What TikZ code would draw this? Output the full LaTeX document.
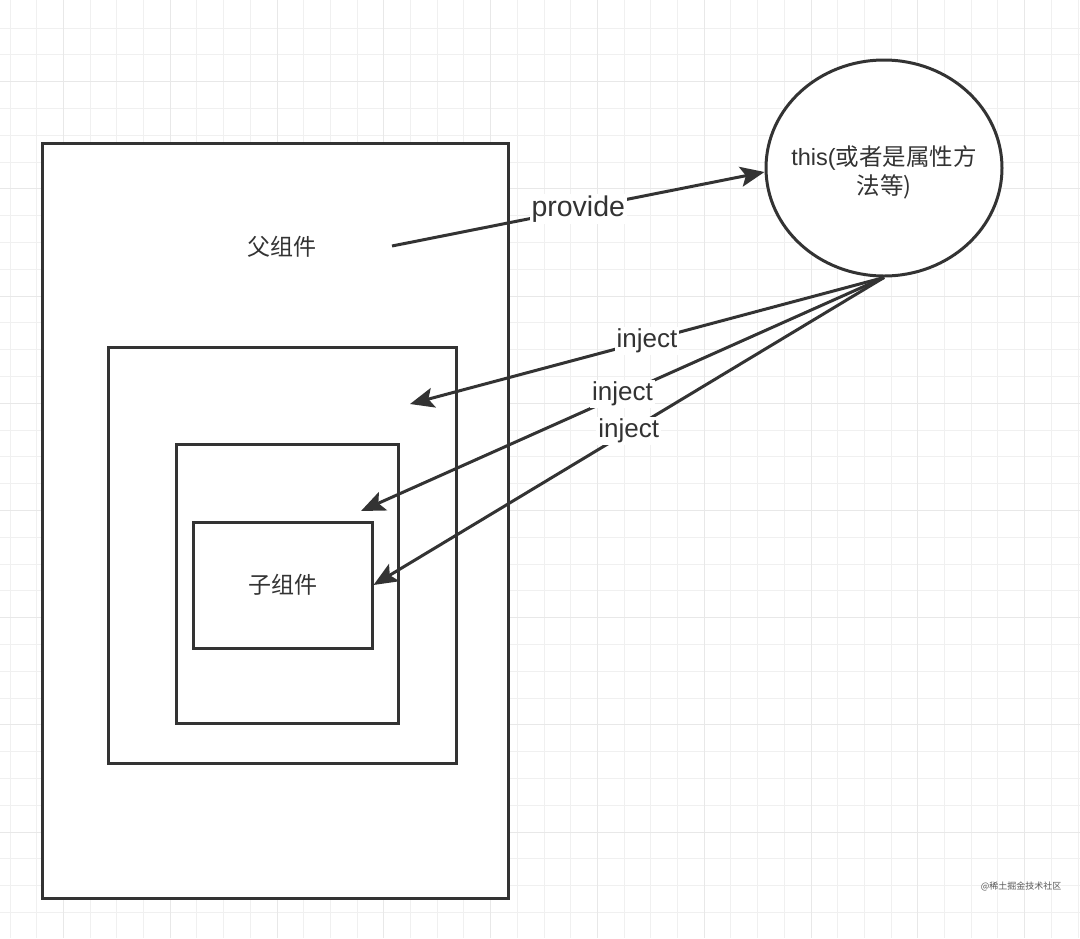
\documentclass[tikz,border=0pt]{standalone}
\usepackage{fontspec}
\usepackage{xcolor}
\usetikzlibrary{arrows.meta,shapes.geometric}
\setmainfont{Liberation Sans}
\newfontfamily\cjk{Noto Sans CJK SC}
\definecolor{ink}{HTML}{333333}

\begin{document}
\begin{tikzpicture}[%
  x=1pt, y=-1pt,
  minor/.style={draw=black!6, line width=1pt},
  major/.style={draw=black!9, line width=1pt},
  comp/.style={draw=ink, fill=white, line width=3pt, inner sep=0pt},
  blob/.style={ellipse, draw=ink, fill=white, line width=3pt, inner sep=0pt,
    minimum width=236pt, minimum height=216pt},
  blobtext/.style={align=center, text=ink, font=\fontsize{23.5}{29}\selectfont},
  clabel/.style={font=\cjk\fontsize{23}{28}\selectfont, text=ink},
  link/.style={draw=ink, line width=3pt, -{Stealth[length=24pt,width=20pt,inset=5pt]}},
  tlabel/.style={fill=white, inner sep=2pt, text=ink, font=\fontsize{26}{30}\selectfont}]
\useasboundingbox[fill=white] (0,0) rectangle (1080,938);
% grid
\foreach \k in {0,...,40} \draw[minor] ({10+26.7*\k},0) -- ({10+26.7*\k},938);
\foreach \k in {0,...,33} \draw[minor] (0,{28+26.8*\k}) -- (1080,{28+26.8*\k});
\foreach \k in {2,6,...,38} \draw[major] ({10+26.7*\k},0) -- ({10+26.7*\k},938);
\foreach \k in {2,6,...,30} \draw[major] (0,{28+26.8*\k}) -- (1080,{28+26.8*\k});

\node[comp, minimum width=466pt, minimum height=755pt] (parent) at (275,520.5) {};
\node[comp, minimum width=348pt, minimum height=416pt] (mid) at (282,555) {};
\node[comp, minimum width=222pt, minimum height=279pt] (inner) at (287,583.5) {};
\node[comp, minimum width=179pt, minimum height=126pt, clabel] (child) at (282.5,585) {子组件};
\node[clabel] (parentlbl) at (282,247) {父组件};
\node[blob] (this) at (884,168) {};
\node[blobtext] (thislbl) at (884,172) {this(\cjk 或者是属性方\\\cjk 法等)};

\coordinate (src) at (392,246);
\coordinate (tomid) at (410,404);
\coordinate (toinner) at (361,511);

\draw[link] (src) -- node[tlabel, font=\fontsize{28.5}{32}\selectfont] {provide} ([yshift=-4pt]this.west);
\draw[link] (this.south) -- node[tlabel] {inject} (tomid);
\draw[link] (this.south) -- node[tlabel] {inject} (toinner);
\draw[link] (this.south) -- node[tlabel] {inject} (child.east);

\node[text=black!65, font=\cjk\fontsize{9}{10}\selectfont] (mark) at (1021,886) {@稀土掘金技术社区};
\end{tikzpicture}
\end{document}
